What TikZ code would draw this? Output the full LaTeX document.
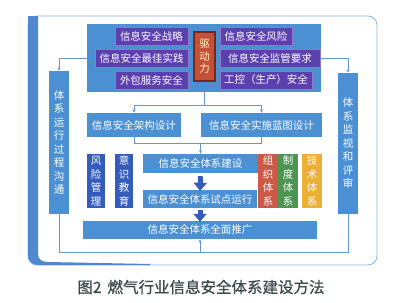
\documentclass[tikz,border=0pt]{standalone}
\usepackage{fontspec}
\setmainfont{Noto Sans CJK SC}
\newfontfamily\capfont{Noto Sans CJK SC}[FakeBold=0.8]
\usepackage{xcolor}
\usepackage{tikz}
\usetikzlibrary{positioning,arrows.meta}

\definecolor{frameblue}{RGB}{140,180,226}
\definecolor{barblue}{RGB}{80,136,205}
\definecolor{boxblue}{RGB}{76,144,212}
\definecolor{deepblue}{RGB}{52,92,190}
\definecolor{boxpurple}{RGB}{92,64,176}
\definecolor{drivered}{RGB}{196,80,58}
\definecolor{driveedge}{RGB}{120,38,30}
\definecolor{orgred}{RGB}{204,88,72}
\definecolor{rulegreen}{RGB}{76,150,82}
\definecolor{techorange}{RGB}{236,176,52}
\definecolor{linkblue}{RGB}{100,150,214}
\definecolor{captiongray}{RGB}{60,74,78}

\begin{document}
\begin{tikzpicture}[
       x=1pt, y=-1pt,
       base/.style={
           rectangle,
           inner sep=0pt,
           text=white,
           font=\fontsize{10.5}{13.5}\selectfont
       },
       bluebox/.style={
           base,
           fill=boxblue
       },
       purplebox/.style={
           base,
           fill=boxpurple,
           draw=boxpurple!70!white,
           line width=0.4pt,
           minimum height=18pt
       },
       vbox/.style={
           base,
           align=center,
           text width=12pt,
           minimum width=20pt
       },
       link/.style={
           draw=linkblue,
           line width=0.7pt,
           -{Stealth[length=3.5pt,width=3pt]}
       },
       line/.style={
           draw=linkblue,
           line width=0.7pt
       },
       flow/.style={
           draw=deepblue,
           line width=5pt,
           -{Triangle[length=8pt,width=13pt]}
       }
   ]

   \useasboundingbox (0,0) rectangle (400,303);

   % Frame
   \draw[frameblue, line width=0.8pt, rounded corners=9pt] (28,16) rectangle (377,265);
   \fill[barblue] (28,16) -- (38,16) -- (38,254)
       .. controls (38,259.5) and (42,262) .. (48,262)
       -- (150,264) -- (150,265) -- (38,265)
       .. controls (32,265) and (28,261) .. (28,255) -- cycle;

   % Drivers
   \node[bluebox, minimum width=234pt, minimum height=68pt] (top) at (204,58) {};
   \node[purplebox, minimum width=73pt] (p1) at (151.5,36) {信息安全战略};
   \node[purplebox, minimum width=93pt] (p2) at (141.5,58) {信息安全最佳实践};
   \node[purplebox, minimum width=73pt] (p3) at (151.5,80) {外包服务安全};
   \node[purplebox, minimum width=72pt] (q1) at (256,36) {信息安全风险};
   \node[purplebox, minimum width=100pt] (q2) at (270,58) {信息安全监管要求};
   \node[purplebox, minimum width=92pt] (q3) at (266,80) {工控（生产）安全};
   \node[vbox, fill=drivered, draw=driveedge, line width=1.2pt,
         minimum width=21pt, minimum height=49pt,
         text=yellow!25!white, font=\fontsize{10.5}{12.5}\selectfont] (drive) at (204.5,56.5) {驱\\动\\力};

   % Side columns
   \node[vbox, fill=boxblue, minimum height=143pt] (comm) at (59,142.5) {体\\系\\运\\行\\过\\程\\沟\\通};
   \node[vbox, fill=boxblue, minimum height=141pt] (monitor) at (348,143.5) {体\\系\\监\\视\\和\\评\\审};

   % Design
   \node[bluebox, minimum width=94pt, minimum height=24pt] (arch) at (134,125) {信息安全架构设计};
   \node[bluebox, minimum width=121pt, minimum height=24pt] (plan) at (261.5,125) {信息安全实施蓝图设计};

   % Steps
   \node[bluebox, minimum width=115pt, minimum height=19pt] (build) at (200.5,163.5) {信息安全体系建设};
   \node[bluebox, minimum width=114pt, minimum height=18pt] (trial) at (200,199) {信息安全体系试点运行};
   \node[bluebox, minimum width=234pt, minimum height=18pt] (promote) at (200,230) {信息安全体系全面推广};

   % Supports
   \node[vbox, fill=deepblue, minimum width=18pt, minimum height=54pt] (risk) at (96,181) {风\\险\\管\\理};
   \node[vbox, fill=deepblue, minimum width=18pt, minimum height=54pt] (aware) at (124,181) {意\\识\\教\\育};
   \node[vbox, fill=orgred, minimum height=54pt] (org) at (268,181) {组\\织\\体\\系};
   \node[vbox, fill=rulegreen, minimum height=54pt] (rule) at (288,181) {制\\度\\体\\系};
   \node[vbox, fill=techorange, minimum height=54pt] (tech) at (312,181) {技\\术\\体\\系};

   % Connectors
   \coordinate (split) at (204,105);
   \coordinate (join) at (200.5,143);
   \coordinate (back) at (200,252);

   \draw[link] (top.west) -| (comm.north);
   \draw[link] (top.east) -| (monitor.north);

   \draw[line] (top.south) -- (split);
   \draw[link] (split) -| (arch.north);
   \draw[link] (split) -| (plan.north);

   \draw[line] (arch.south) -- (arch.south |- join) -- (plan.south |- join) -- (plan.south);
   \draw[link] (join) -- (build.north);

   \draw[flow] ([yshift=-3pt]build.south) -- ([yshift=-1pt]trial.north);
   \draw[flow] ([yshift=-2pt]trial.south) -- ([yshift=-1pt]promote.north);

   \draw[line] (comm.south) -- (comm.south |- back) -- (monitor.south |- back) -- (monitor.south);
   \draw[link] (back) -- (promote.south);

   % Caption
   \node[text=captiongray, font=\capfont\fontsize{15.5}{17}\selectfont] (caption) at (201,287) {图2\hspace{6pt}燃气行业信息安全体系建设方法};

   \end{tikzpicture}
\end{document}
